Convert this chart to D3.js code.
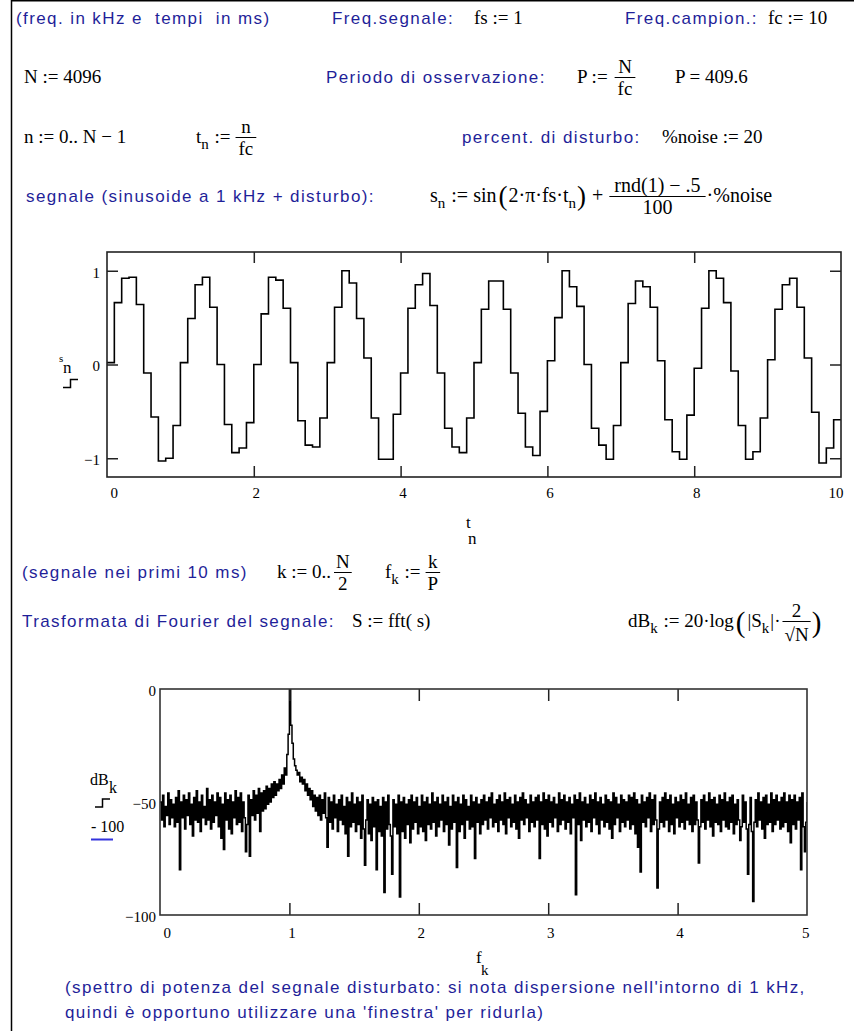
<!DOCTYPE html>
<html><head><meta charset="utf-8">
<script src="https://cdn.jsdelivr.net/npm/d3@7"></script>
<style>body{margin:0;background:#fff}svg{display:block}</style>
</head><body>
<svg id="c" width="854" height="1031"></svg>
<script>
// ---------- data ----------
const fc = 10;                 // sampling frequency (kHz) -> t step 1/fc ms
const tTicks = [0, 2, 4, 6, 8, 10];
const sTicks = [-1, 0, 1];
// s_n for the first 100 samples (t = 0 .. 9.9 ms)
const signalValues = [
  0.02, 0.66, 0.92, 0.93, 0.64, -0.09, -0.56, -1.03, -1.00, -0.65,
  0.02, 0.49, 0.85, 0.93, 0.61, 0.00, -0.64, -0.94, -0.89, -0.62,
  0.00, 0.54, 0.93, 0.90, 0.60, 0.02, -0.60, -0.86, -0.88, -0.57,
  0.02, 0.61, 1.00, 0.87, 0.49, 0.07, -0.57, -1.01, -1.01, -0.53,
  -0.09, 0.60, 0.85, 0.97, 0.63, -0.09, -0.68, -0.88, -0.94, -0.57,
  0.02, 0.59, 0.89, 0.89, 0.59, -0.09, -0.52, -0.88, -0.97, -0.50,
  0.04, 0.50, 1.00, 0.83, 0.62, 0.00, -0.68, -0.86, -1.01, -0.65,
  0.02, 0.65, 0.89, 0.83, 0.61, 0.04, -0.59, -0.93, -1.01, -0.54,
  -0.04, 0.60, 1.00, 0.92, 0.66, -0.07, -0.65, -1.01, -0.93, -0.57,
  0.05, 0.59, 0.85, 0.92, 0.61, 0.07, -0.51, -1.05, -0.89, -0.59
];
const fStep = 0.01;            // frequency grid step (kHz)
const fTicks = [0, 1, 2, 3, 4, 5];
const dbTicks = [-100, -50, 0];
// dB_k, f = 0 .. 5 kHz
const dbValues = [
  -50,-58,-47,-61,-52,-56,-46,-60,-49,-57,
  -51,-61,-48,-59,-45,-80,-50,-57,-47,-62,
  -49,-56,-46,-60,-51,-65,-48,-58,-45,-59,
  -50,-63,-47,-57,-52,-60,-44,-58,-49,-62,
  -47,-59,-50,-56,-46,-61,-48,-66,-51,-71,
  -46,-58,-49,-62,-47,-64,-50,-57,-45,-60,
  -48,-59,-46,-63,-50,-57,-72,-60,-47,-74,
  -49,-56,-45,-58,-47,-55,-44,-63,-46,-54,
  -45,-53,-43,-51,-44,-50,-42,-48,-41,-47,
  -42,-45,-40,-44,-38,-42,-35,-38,-29,-20,
  0,-16,-24,-31,-34,-36,-38,-37,-41,-39,
  -42,-40,-45,-42,-47,-44,-49,-45,-52,-47,
  -54,-48,-56,-47,-58,-49,-55,-46,-57,-70,
  -48,-59,-50,-62,-47,-57,-51,-63,-49,-58,
  -47,-60,-52,-64,-48,-74,-50,-61,-46,-59,
  -51,-63,-48,-60,-50,-66,-47,-62,-78,-58,
  -49,-64,-51,-67,-48,-61,-50,-80,-49,-63,
  -52,-65,-48,-90,-50,-62,-47,-60,-65,-82,
  -49,-61,-51,-64,-47,-92,-50,-63,-48,-66,
  -51,-60,-49,-68,-47,-62,-50,-59,-48,-64,
  -52,-61,-47,-63,-50,-67,-48,-60,-51,-62,
  -46,-59,-50,-65,-48,-61,-51,-58,-47,-63,
  -50,-60,-48,-69,-52,-62,-47,-59,-50,-79,
  -48,-63,-51,-60,-47,-66,-49,-58,-52,-62,
  -47,-61,-50,-75,-48,-59,-51,-64,-49,-60,
  -47,-58,-50,-62,-48,-57,-46,-61,-51,-59,
  -49,-63,-47,-58,-50,-60,-46,-64,-49,-57,
  -48,-61,-51,-59,-47,-62,-50,-66,-48,-58,
  -46,-60,-49,-57,-51,-63,-47,-59,-50,-61,
  -48,-58,-47,-75,-50,-60,-46,-62,-49,-65,
  -47,-59,-50,-61,-48,-57,-51,-63,-46,-60,
  -49,-58,-47,-62,-50,-59,-48,-64,-51,-57,
  -47,-91,-49,-60,-46,-67,-50,-58,-48,-61,
  -51,-59,-47,-63,-49,-57,-46,-60,-50,-64,
  -48,-58,-51,-61,-47,-59,-49,-62,-50,-66,
  -46,-60,-48,-57,-51,-63,-47,-59,-49,-61,
  -50,-58,-47,-62,-48,-60,-46,-64,-49,-70,
  -51,-81,-47,-59,-50,-61,-48,-57,-46,-63,
  -49,-60,-47,-58,-88,-62,-50,-59,-48,-61,
  -46,-58,-49,-63,-47,-60,-51,-64,-48,-57,
  -50,-61,-47,-59,-49,-62,-46,-58,-51,-60,
  -48,-63,-47,-60,-50,-58,-77,-61,-49,-59,
  -47,-62,-50,-58,-46,-61,-49,-65,-48,-59,
  -51,-60,-47,-63,-49,-58,-46,-61,-50,-62,
  -48,-59,-47,-64,-51,-60,-49,-58,-67,-61,
  -47,-59,-50,-62,-82,-60,-48,-63,-94,-59,
  -49,-61,-46,-58,-50,-62,-48,-66,-47,-60,
  -51,-59,-46,-63,-49,-60,-47,-58,-50,-62,
  -48,-61,-46,-59,-50,-63,-47,-68,-49,-60,
  -47,-62,-50,-58,-48,-80,-46,-61,-72,-59,
  -50
];

// ---------- helpers ----------
const SANS = '"Liberation Sans", Arial, sans-serif';
const SERIF = '"Liberation Serif", "Times New Roman", serif';
const BLUE = '#1f1f99';
const svg = d3.select('#c');

function T(x, y, s, o = {}) {
  const t = svg.append('text').attr('x', x).attr('y', y).text(s)
    .attr('font-family', o.serif ? SERIF : SANS)
    .attr('font-size', o.size || (o.serif ? 19 : 17))
    .attr('fill', o.fill || (o.serif ? '#000' : BLUE))
    .style('white-space', 'pre');
  if (o.anchor) t.attr('text-anchor', o.anchor);
  t.attr('letter-spacing', o.ls != null ? o.ls : (o.serif ? 0 : 1.4));
  return t;
}
const M = (x, y, s, o = {}) => T(x, y, s, Object.assign({serif: 1}, o));
function L(x1, y1, x2, y2, c = '#000', w = 1) {
  svg.append('line').attr('x1', x1).attr('y1', y1).attr('x2', x2).attr('y2', y2)
    .attr('stroke', c).attr('stroke-width', w);
}
// lays out a formula piece by piece, measuring each piece
function seq(x, y, parts, base = 19) {
  let cx = x;
  for (const p of parts) {
    if (p.frac) {
      const a = M(0, y - 10, p.frac[0], {anchor: 'middle', size: base});
      const b = M(0, y + 12, p.frac[1], {anchor: 'middle', size: base});
      const w = Math.max(a.node().getComputedTextLength(), b.node().getComputedTextLength()) + (p.pad || 6);
      const mid = cx + 1 + w / 2;
      a.attr('x', mid); b.attr('x', mid);
      if (p.denDy) b.attr('y', y + 12 + p.denDy);
      L(cx + 1, y - 5.5, cx + 1 + w, y - 5.5);
      cx += w + 2 + (p.gap || 0);
    } else {
      const t = M(cx + (p.dx || 0), y + (p.dy || 0), p.s, {size: p.size || base});
      cx += (p.dx || 0) + t.node().getComputedTextLength() + (p.gap || 0);
    }
  }
  return cx;
}
const sub = (s) => ({s, size: 15, dy: 6, gap: 1});

// page border
L(11.5, 0, 11.5, 1031, '#000', 1.5);
L(11, 0.75, 854, 0.75, '#000', 1.5);

// ---------- worksheet text ----------
T(16, 24, '(freq. in kHz e  tempi  in ms)');
T(332, 24, 'Freq.segnale:');
M(474, 24, 'fs := 1');
T(625, 24, 'Freq.campion.:');
M(768, 24, 'fc := 10');

M(24, 83, 'N := 4096');
T(326, 83, 'Periodo di osservazione:');
seq(577, 83, [{s: 'P :=', gap: 6}, {frac: ['N', 'fc']}]);
M(675, 83, 'P = 409.6');

M(24, 143, 'n := 0.. N \u2212 1');
seq(196, 143, [{s: 't'}, sub('n'), {s: ' :=', gap: 4}, {frac: ['n', 'fc']}]);
T(462, 143, 'percent. di disturbo:');
M(662, 143, '%noise := 20');

T(26, 202, 'segnale (sinusoide a 1 kHz + disturbo):');
seq(430, 202, [
  {s: 's'}, sub('n'), {s: ' := sin', gap: 2},
  {s: '(', size: 27, dy: 3, gap: 1}, {s: '2\u00b7\u03c0\u00b7fs\u00b7t'}, sub('n'),
  {s: ')', size: 27, dy: 3, gap: 6}, {s: '+', gap: 5},
  {frac: ['rnd(1) \u2212 .5', '100'], pad: 10}, {s: '\u00b7%noise'}
], 20);

T(22, 578, '(segnale nei primi 10 ms)');
seq(277, 578, [{s: 'k := 0..', gap: 2}, {frac: ['N', '2'], pad: 4}]);
seq(385, 578, [{s: 'f'}, sub('k'), {s: ' :=', gap: 4}, {frac: ['k', 'P'], pad: 4}]);

T(22, 627, 'Trasformata di Fourier del segnale:');
M(352, 627, 'S := fft( s)');
seq(628, 627, [
  {s: 'dB'}, sub('k'), {s: ' := 20\u00b7log', gap: 2},
  {s: '(', size: 29, dy: 5, gap: 2}, {s: '|S'}, sub('k'), {s: '|\u00b7', gap: 1},
  {frac: ['2', '\u221aN'], pad: 4, denDy: 2}, {s: ')', size: 29, dy: 5}
]);

T(65, 993, "(spettro di potenza del segnale disturbato: si nota dispersione nell'intorno di 1 kHz,");
T(65, 1018, "quindi \u00e8 opportuno utilizzare una 'finestra' per ridurla)");

// ---------- plot 1 : signal ----------
const p1 = {l: 107, r: 841, t: 252, b: 477};
const x1 = d3.scaleLinear().domain([0, 10]).range([p1.l, p1.r]);
const y1 = d3.scaleLinear().domain([-1.2, 1.2]).range([p1.b, p1.t]);
const g1 = svg.append('g');
g1.append('defs').append('clipPath').attr('id', 'cp1').append('rect')
  .attr('x', p1.l).attr('y', p1.t).attr('width', p1.r - p1.l).attr('height', p1.b - p1.t);
const sig = signalValues.map((v, n) => ({t: n / fc, v}));
sig.push({t: signalValues.length / fc, v: signalValues[signalValues.length - 1]});
g1.append('path').datum(sig).attr('clip-path', 'url(#cp1)')
  .attr('fill', 'none').attr('stroke', '#000').attr('stroke-width', 1.6)
  .attr('d', d3.line().x(d => x1(d.t)).y(d => y1(d.v)).curve(d3.curveStepAfter));

function styleAxis(g, size) {
  g.select('.domain').remove();
  g.selectAll('line').attr('stroke', '#222').attr('stroke-width', 1.5);
  g.selectAll('text').attr('font-family', SERIF).attr('font-size', size).attr('fill', '#000');
}
const ab1 = g1.append('g').attr('transform', `translate(0,${p1.b})`)
  .call(d3.axisBottom(x1).tickValues(tTicks).tickSize(-11).tickPadding(10).tickFormat(d3.format('d')));
styleAxis(ab1, 15);
ab1.selectAll('.tick').filter(d => d === 0 || d === 10).select('line').remove();
ab1.selectAll('.tick text').attr('text-anchor', d => d === 0 ? 'start' : d === 10 ? 'end' : 'middle')
  .attr('dx', d => d === 0 ? 3 : 2);
const at1 = g1.append('g').attr('transform', `translate(0,${p1.t})`)
  .call(d3.axisTop(x1).tickValues(tTicks.slice(1, -1)).tickSize(-11).tickFormat(''));
styleAxis(at1, 15);
const al1 = g1.append('g').attr('transform', `translate(${p1.l},0)`)
  .call(d3.axisLeft(y1).tickValues(sTicks).tickSize(-11).tickPadding(7).tickFormat(d3.format('d')));
styleAxis(al1, 15);
al1.selectAll('.tick text').attr('dy', '0.42em');
const ar1 = g1.append('g').attr('transform', `translate(${p1.r},0)`)
  .call(d3.axisRight(y1).tickValues(sTicks).tickSize(-11).tickFormat(''));
styleAxis(ar1, 15);
g1.append('rect').attr('x', p1.l).attr('y', p1.t).attr('width', p1.r - p1.l).attr('height', p1.b - p1.t)
  .attr('fill', 'none').attr('stroke', '#222').attr('stroke-width', 1.6);
// axis labels plot 1
M(59, 362, 's', {size: 11});
M(63, 373, 'n', {size: 17});
svg.append('path').attr('d', 'M63,387.5H70.5V379.5H78').attr('fill', 'none').attr('stroke', '#000').attr('stroke-width', 1.5);
M(466, 528, 't', {size: 17});
M(468, 544, 'n', {size: 17});

// ---------- plot 2 : spectrum ----------
const p2 = {l: 160, r: 807, t: 689, b: 915};
const x2 = d3.scaleLinear().domain([0, 5]).range([p2.l, p2.r]);
const y2 = d3.scaleLinear().domain([-100, 0]).range([p2.b, p2.t]);
const g2 = svg.append('g');
g2.append('defs').append('clipPath').attr('id', 'cp2').append('rect')
  .attr('x', p2.l).attr('y', p2.t).attr('width', p2.r - p2.l).attr('height', p2.b - p2.t);
const spec = dbValues.map((v, k) => ({f: k * fStep, v}));
g2.append('path').datum(spec).attr('clip-path', 'url(#cp2)')
  .attr('fill', 'none').attr('stroke', '#000').attr('stroke-width', 1.5)
  .attr('d', d3.line().x(d => x2(d.f)).y(d => y2(d.v)).curve(d3.curveStepAfter));
const ab2 = g2.append('g').attr('transform', `translate(0,${p2.b})`)
  .call(d3.axisBottom(x2).tickValues(fTicks).tickSize(-12).tickPadding(12).tickFormat(d3.format('d')));
styleAxis(ab2, 15);
ab2.selectAll('.tick').filter(d => d === 0 || d === 5).select('line').remove();
ab2.selectAll('.tick text').attr('text-anchor', d => d === 0 ? 'start' : d === 5 ? 'end' : 'middle')
  .attr('dx', d => d === 0 ? 3 : 2);
const at2 = g2.append('g').attr('transform', `translate(0,${p2.t})`)
  .call(d3.axisTop(x2).tickValues(fTicks.slice(1, -1)).tickSize(-12).tickFormat(''));
styleAxis(at2, 15);
const al2 = g2.append('g').attr('transform', `translate(${p2.l},0)`)
  .call(d3.axisLeft(y2).tickValues(dbTicks).tickSize(0).tickPadding(4).tickFormat(d3.format('d')));
styleAxis(al2, 15);
al2.selectAll('.tick text').attr('dy', '0.45em');
g2.append('rect').attr('x', p2.l).attr('y', p2.t).attr('width', p2.r - p2.l).attr('height', p2.b - p2.t)
  .attr('fill', 'none').attr('stroke', '#333').attr('stroke-width', 1.6);
// axis labels plot 2
M(90, 785, 'dB', {size: 16});
M(109, 793, 'k', {size: 16});
svg.append('path').attr('d', 'M95,807H102.5V799H110').attr('fill', 'none').attr('stroke', '#000').attr('stroke-width', 1.5);
M(91, 832, '- 100', {size: 16});
L(91, 839.5, 113, 839.5, '#3333dd', 2);
M(476, 963, 'f', {size: 17});
M(481, 975, 'k', {size: 15});
</script>
</body></html>
